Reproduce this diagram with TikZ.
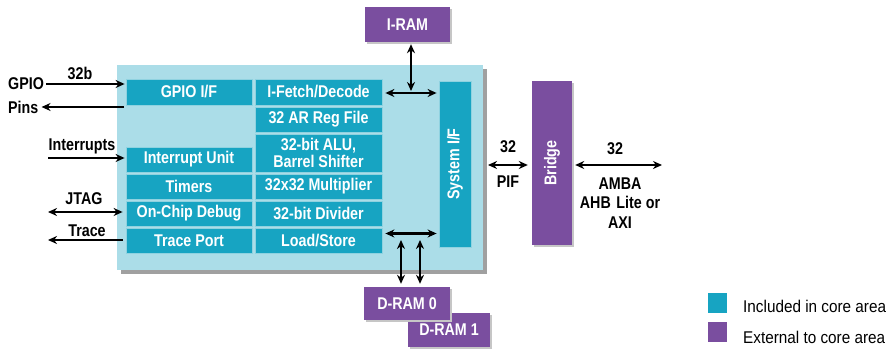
\documentclass[tikz,border=0pt]{standalone}
\usepackage{fontspec}
\setmainfont{Liberation Sans}
\newfontfamily\cond[FakeStretch=0.84]{Liberation Sans}
\newfontfamily\condl[FakeStretch=0.9]{Liberation Sans}
\usetikzlibrary{arrows.meta,calc}
\definecolor{cellc}{HTML}{17A4C2}
\definecolor{celledge}{HTML}{8FD2E0}
\definecolor{corebg}{HTML}{ABDDE8}
\definecolor{purp}{HTML}{7A4E9F}
\definecolor{shad}{HTML}{A0A0A0}
\begin{document}
\begin{tikzpicture}[x=1pt,y=-1pt,
  lbl/.style={font=\cond\bfseries\fontsize{17}{17}\selectfont, inner sep=0pt, align=center},
  cell/.style={lbl, fill=cellc, draw=celledge, line width=0.8pt, text=white, minimum width=126pt, minimum height=25pt},
  mcell/.style={cell, minimum width=127pt},
  ext/.style={lbl, fill=purp, text=white, inner sep=0pt},
  leg/.style={font=\condl\fontsize{17}{17}\selectfont, inner sep=0pt, anchor=west},
  arr/.style={line width=2.4pt, arrows={-Stealth[length=9pt,width=8pt]}},
  darr/.style={line width=2.4pt, arrows={Stealth[length=9pt,width=8pt]-Stealth[length=9pt,width=8pt]}}]
\useasboundingbox (0,0) rectangle (892,352);
\fill[white] (0,0) rectangle (892,352);
% core background
\fill[shad] (121,69) rectangle (487,274);
\node[fill=corebg, minimum width=366pt, minimum height=205pt, inner sep=0pt] (core) at (300,167.5) {};
% left column
\node[cell, minimum height=26pt] (gpio) at (189,92) {GPIO I/F};
\node[cell] (intr) at (189,159.5) {Interrupt Unit};
\node[cell] (tim) at (189,186.5) {Timers};
\node[cell] (ocd) at (189,213.5) {On-Chip Debug};
\node[cell] (tp) at (189,240.5) {Trace Port};
% middle column
\node[mcell, minimum height=26pt] (ifd) at (318.5,92) {I-Fetch/Decode};
\node[mcell] (reg) at (318.5,119.5) {32 AR Reg File};
\node[mcell, minimum height=38pt] (alu) at (318.5,153) {32-bit ALU,\\Barrel Shifter};
\node[mcell] (mul) at (318.5,186.5) {32x32 Multiplier};
\node[mcell] (div) at (318.5,213.5) {32-bit Divider};
\node[mcell] (ls) at (318.5,240.5) {Load/Store};
% system I/F
\node[cell, minimum width=32pt, minimum height=166pt] (sysif) at (455,164) {};
\node[lbl, text=white, rotate=90] (sysift) at (sysif.center) {System I/F};
% bridge
\fill[shad!60] (534,83) rectangle (574,247);
\node[ext, minimum width=40pt, minimum height=164pt] (bridge) at (552,163) {};
\node[lbl, text=white, rotate=90] (bridget) at (bridge.center) {Bridge};
% RAMs
\fill[shad!60] (367,9) rectangle (452,44);
\node[ext, minimum width=85pt, minimum height=35pt] (iram) at (407.5,24.5) {I-RAM};
\fill[shad!60] (410,315) rectangle (492,349);
\node[ext, minimum width=82pt, minimum height=34pt] (dram1) at (449,330) {D-RAM 1};
\fill[shad!60] (366,289) rectangle (452,322);
\node[ext, minimum width=86pt, minimum height=33pt] (dram0) at (407,303.5) {D-RAM 0};
% internal buses
\draw[darr] ($(ifd.east)+(3,1)$) -- ($(sysif.west |- ifd.east)+(-2,1)$);
\coordinate (ibus) at (411,91);
\draw[darr] ($(iram.south -| ibus)+(0,2)$) -- (ibus);
\draw[darr] ($(ls.east)+(3,-7)$) -- ($(sysif.west |- ls.east)+(-2,-7)$);
\coordinate (dbusa) at (401,240);
\coordinate (dbusb) at (420,240);
\draw[darr] (dbusa) -- ($(dram0.north -| dbusa)+(0,-3)$);
\draw[darr] (dbusb) -- ($(dram0.north -| dbusb)+(0,-3)$);
% left side signals
\node[lbl, anchor=west] (gpiol) at (8,84) {GPIO};
\node[lbl, anchor=west] (pinsl) at (8,107) {Pins};
\node[lbl] (b32) at (80,73) {32b};
\draw[arr] ($(gpiol.east)+(2,0)$) -- ($(gpio.west)+(-1,-8)$);
\coordinate (pinsa) at (124,107);
\draw[arr] (pinsa) -- ($(pinsl.east)+(3,0)$);
\node[lbl] (intl) at (82,146) {Interrupts};
\coordinate (inta) at (48,158);
\draw[arr] (inta) -- ($(intr.west)+(-1,-1.5)$);
\node[lbl] (jtagl) at (84,199) {JTAG};
\coordinate (jtaga) at (48,212);
\draw[darr] (jtaga) -- ($(ocd.west)+(-3,-1.5)$);
\node[lbl] (tracel) at (87,231) {Trace};
\coordinate (tracea) at (48,240);
\draw[arr] ($(tp.west)+(-3,-0.5)$) -- (tracea);
% right side
\coordinate (pifa) at (488,165);
\draw[darr] (pifa) -- ($(bridge.west |- pifa)+(-4,0)$);
\node[lbl] (p32) at (508,147) {32};
\node[lbl] (pifl) at (508,182) {PIF};
\coordinate (ambae) at (662,165);
\draw[darr] ($(bridge.east |- ambae)+(3,0)$) -- (ambae);
\node[lbl] (a32) at (615,149) {32};
\node[lbl, font=\cond\bfseries\fontsize{17}{19.5}\selectfont] (ambal) at (620,203) {AMBA\\AHB\,\,Lite or\\AXI};
% legend
\node[fill=cellc, minimum width=19pt, minimum height=20pt, inner sep=0pt] (legc) at (717.5,303) {};
\node[leg] (legct) at (743,306) {Included in core area};
\node[fill=purp, minimum width=19pt, minimum height=20pt, inner sep=0pt] (legp) at (717.5,332) {};
\node[leg] (legpt) at (743,337) {External to core area};
\end{tikzpicture}
\end{document}
